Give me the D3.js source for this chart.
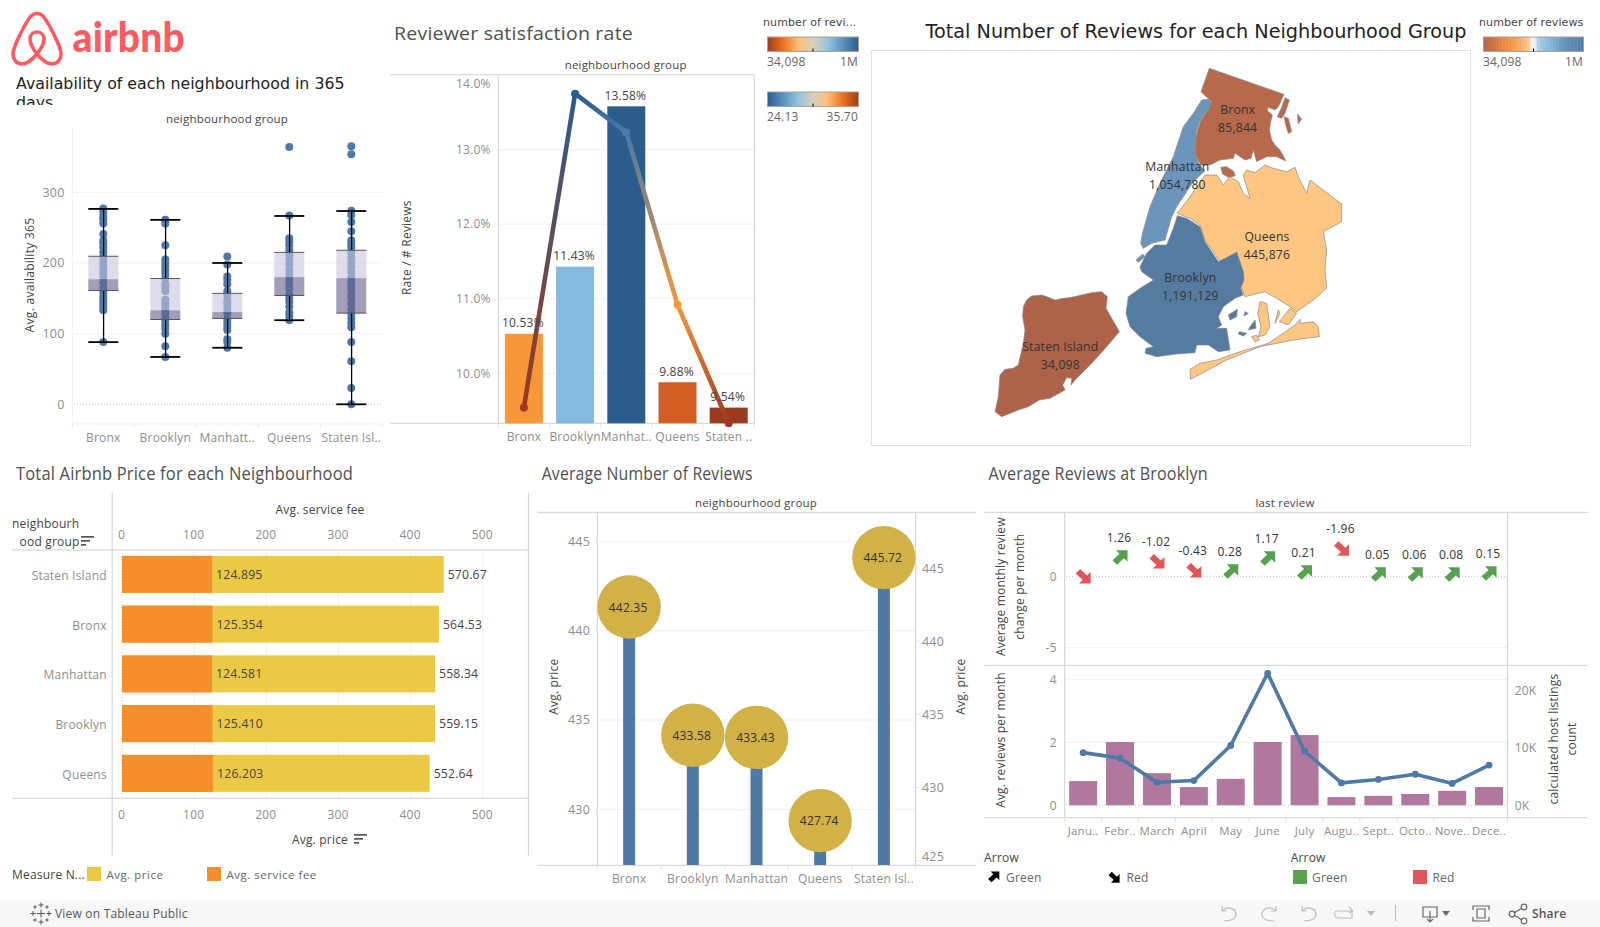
<!DOCTYPE html>
<html><head><meta charset="utf-8">
<script src="https://cdn.jsdelivr.net/npm/d3@7/dist/d3.min.js"></script>
<style>html,body{margin:0;padding:0;background:#fff;overflow:hidden}svg{display:block}text{font-family:'Open Sans',sans-serif;letter-spacing:.2px}</style>
</head><body><svg id="c" width="1600" height="927"></svg>
<script>
// ---------- data ----------
const groups = ["Bronx","Brooklyn","Manhattan","Queens","Staten Island"];
const boxTickLabels = ["Bronx","Brooklyn","Manhatt..","Queens","Staten Isl.."];
const boxWhiskerHigh = [276.5,261,200,266.5,273.5];
const boxWhiskerLow = [88,67,80,119,0];
const boxQ3 = [209.5,178,157,215,218];
const boxMedian = [177,133,130.5,180,178.5];
const boxQ1 = [161,120,121.5,154,129];
const boxPoints = [
 [277,272,266,262,256,241,232,228,222,215,208,203,198,192,186,180,172,165,158,152,147,142,137,133,88],
 [261,256,225,205,200,195,190,185,178,170,165,160,148,143,138,133,128,122,118,112,107,100,82,67],
 [209,198,181,176,170,160,155,148,143,138,132,128,120,115,110,105,92,88,80],
 [364,267,235,230,225,218,212,205,198,190,183,176,170,163,155,150,145,138,130,125,119],
 [365,354,274,268,258,245,232,227,222,215,207,200,195,188,180,173,168,162,155,150,143,135,128,122,115,109,88,61,23,0]];
const boxTicks = [0,100,200,300];

const rateTickLabels = ["Bronx","Brooklyn","Manhat..","Queens","Staten .."];
const rateBars = [10.53,11.43,13.58,9.88,9.54];
const rateLine = [9.54,13.75,13.23,10.92,9.33];
const rateBarColors = ["#f7973a","#85b9dd","#2c5c8c","#d35d23","#9c3a1f"];
const rateLineColors = ["#9c3a1f","#2c5c8c","#4a7aa8","#f7973a","#9c3a1f"];
const rateTicks = [10,11,12,13,14];

const mapNames = ["Bronx","Manhattan","Queens","Brooklyn","Staten Island"];
const mapReviews = ["85,844","1,054,780","445,876","1,191,129","34,098"];

const priceGroups = ["Staten Island","Bronx","Manhattan","Brooklyn","Queens"];
const serviceFee = [124.895,125.354,124.581,125.410,126.203];
const priceTotal = [570.67,564.53,558.34,559.15,552.64];
const priceTicks = [0,100,200,300,400,500];

const lolliTickLabels = ["Bronx","Brooklyn","Manhattan","Queens","Staten Isl.."];
const avgPrice = [442.35,433.58,433.43,427.74,445.72];
const lolliLeftTicks = [430,435,440,445];
const lolliRightTicks = [425,430,435,440,445];

const months = ["January","February","March","April","May","June","July","August","September","October","November","December"];
const monthLabels = ["Janu..","Febr..","March","April","May","June","July","Augu..","Sept..","Octo..","Nove..","Dece.."];
const changeLabels = [null,1.26,-1.02,-0.43,0.28,1.17,0.21,-1.96,0.05,0.06,0.08,0.15];
const changeMagnitude = [0.05,1.34,1.10,0.47,0.35,1.27,0.28,2.00,0.14,0.14,0.14,0.21];
const changeDirection = ["down","up","down","down","up","up","up","down","up","up","up","up"];
const reviewsPerMonth = [0.77,2.01,1.02,0.58,0.84,2.01,2.23,0.26,0.30,0.36,0.46,0.58];
const hostListings = [9.16,8.2,4.0,4.3,10.4,22.96,9.4,3.9,4.5,5.4,3.8,7.0];

// map outlines, in map units
const outlineBronx = [[748,55],[972,133],[960,160],[955,170],[945,180],[925,172],[922,182],[937,195],[932,215],[928,240],[935,270],[945,285],[960,300],[978,333],[950,320],[920,320],[890,335],[880,300],[873,325],[855,330],[825,310],[820,325],[780,330],[750,345],[722,345],[705,310],[708,260],[722,210],[745,180],[755,155],[745,146],[723,125]];
const outlineBronx2 = [[975,143],[988,150],[975,190],[965,205],[952,200],[968,165]];
const outlineBronx3 = [[972,200],[985,205],[995,245],[985,250],[978,228]];
const outlineBronx4 = [[1012,192],[1025,207],[1015,222]];
const outlineRikers = [[782,352],[800,350],[822,365],[825,378],[805,382],[788,372]];
const outlineManhattan = [[725,150],[745,148],[755,158],[745,178],[720,210],[708,250],[705,310],[718,345],[735,362],[700,395],[680,425],[650,470],[635,500],[615,570],[575,580],[550,595],[542,580],[548,548],[570,470],[600,400],[640,320],[670,230],[700,190]];
const outlineGovernors = [[528,630],[548,612],[555,620],[535,637]];
const outlineQueens = [[652,490],[690,440],[735,375],[770,375],[790,405],[810,380],[835,395],[850,430],[870,445],[860,410],[850,375],[860,360],[885,368],[915,345],[940,355],[980,365],[1005,352],[1015,380],[1040,430],[1050,390],[1145,462],[1145,515],[1090,545],[1100,600],[1095,660],[1100,715],[1060,750],[1010,785],[990,770],[950,745],[915,725],[855,740],[842,710],[850,670],[830,607],[780,635],[760,605],[735,570],[720,525],[690,505]];
const outlineBroadChannel = [[900,755],[920,760],[930,830],[915,855],[895,860],[903,830],[893,790]];
const outlineQueensIsle1 = [[990,775],[1010,790],[985,825],[958,815]];
const outlineQueensIsle2 = [[955,780],[960,790],[945,820]];
const outlineQueensIsle3 = [[875,860],[890,855],[898,870],[885,875]];
const outlineRockaway = [[690,958],[720,940],[770,930],[840,905],[925,880],[1005,825],[1020,808],[1022,820],[1060,815],[1075,830],[1078,860],[1000,870],[900,890],[800,930],[692,988]];
const outlineBrooklyn = [[652,497],[680,505],[720,530],[735,575],[775,635],[830,607],[850,665],[852,690],[842,715],[850,735],[825,745],[790,770],[775,800],[785,825],[770,835],[800,835],[810,900],[775,905],[745,885],[710,885],[705,908],[650,912],[590,920],[555,910],[558,895],[580,890],[540,860],[510,830],[498,790],[505,740],[540,715],[580,690],[545,665],[540,650],[560,610],[585,585],[620,585],[640,535]];
const outlineBkIsle1 = [[805,795],[832,778],[830,800],[810,810]];
const outlineBkIsle2 = [[855,785],[865,790],[852,798]];
const outlineBkIsle3 = [[870,830],[885,810],[888,835],[865,840]];
const outlineBkIsle4 = [[838,845],[860,850],[850,858],[835,852]];
const outlineStaten = [[190,770],[200,750],[215,738],[245,735],[265,742],[285,750],[310,745],[335,742],[365,735],[395,728],[425,725],[442,740],[438,775],[455,805],[470,830],[478,845],[440,890],[395,940],[350,985],[333,1005],[335,985],[320,983],[308,1005],[315,1020],[270,1045],[238,1050],[205,1070],[175,1080],[125,1100],[105,1085],[115,1040],[120,975],[135,958],[160,955],[175,945],[183,910],[190,880],[195,840],[188,800]];

// ---------- helpers ----------
const GREY="#8e8e8e", DARK="#444", GRID="#f0f0f0", RULE="#cfcfcf", BLUE="#4e79a7";
const svg=d3.select("#c");
function txt(x,y,s,o={}){return svg.append("text").attr("x",x).attr("y",y).attr("dy","0.35em")
  .attr("text-anchor",o.a||"start").attr("fill",o.c||DARK).style("font-size",(o.s||12)+"px")
  .style("font-family",o.f||null).style("font-weight",o.w||null).style("letter-spacing",o.ls||null).text(s);}
function title(x,y,s,len){return txt(x,y,s,{s:18,c:"#4f4f4f",w:400}).attr("textLength",len).attr("lengthAdjust","spacingAndGlyphs");}
function vtxt(x,y,s,o={}){return txt(0,0,s,Object.assign({a:"middle"},o)).attr("transform",`translate(${x},${y}) rotate(-90)`);}
function rule(x1,y1,x2,y2,c=RULE,w=1,dash=null){const l=svg.append("line").attr("x1",x1).attr("y1",y1).attr("x2",x2).attr("y2",y2).attr("stroke",c).attr("stroke-width",w);if(dash)l.attr("stroke-dasharray",dash);return l;}
function styleAxis(g,size=12,color=GREY){g.select(".domain").remove();g.selectAll(".tick line").remove();
  g.selectAll("text").attr("fill",color).style("font-size",size+"px");return g;}
function bandTicks(x,y,len=4,c="#e0e0e0"){const d=x.domain();d.forEach(k=>rule(x(k),y,x(k),y+len,c));rule(x(d[d.length-1])+x.bandwidth(),y,x(d[d.length-1])+x.bandwidth(),y+len,c);}
function bottomLabels(x,labels,y,size=12){const map=new Map(x.domain().map((k,i)=>[k,labels[i]]));
  return styleAxis(svg.append("g").attr("transform",`translate(0,${y})`).call(d3.axisBottom(x).tickSize(0).tickPadding(0).tickFormat(k=>map.get(k))),size).call(g=>g.selectAll("text").attr("dy","0.35em").attr("y",0));}
function sortIcon(x,y,c="#555"){[13,9,5].forEach((w,i)=>svg.append("rect").attr("x",x).attr("y",y+i*4).attr("width",w).attr("height",1.7).attr("fill",c));}

// ---------- logo ----------
svg.append("path").attr("fill","none").attr("stroke","#ff5a5f").attr("stroke-width",3.6).attr("stroke-linejoin","round")
 .attr("d","M37 54 C42 60 47 64 52 64 C58 64 61 59 61 54 C61 50 59 46 57 41 C52 30 47 21 43 16 C41 14 39 13.5 37 13.5 C35 13.5 33 14 31 16 C27 21 22 30 17 41 C15 46 13 50 13 54 C13 59 16 64 22 64 C27 64 32 60 37 54 C41 49 44 44 44 39 C44 35 41 32 37 32 C33 32 30 35 30 39 C30 44 33 49 37 54 Z");
txt(72.5,38,"airbnb",{s:41,c:"#ff5a5f",w:900,f:"Lato,sans-serif"}).attr("textLength",112.5).attr("lengthAdjust","spacingAndGlyphs");

// ---------- box plot ----------
const clip=svg.append("defs").append("clipPath").attr("id","tclip").append("rect").attr("x",0).attr("y",70).attr("width",380).attr("height",35);
const t1=svg.append("g").attr("clip-path","url(#tclip)");
t1.append("text").attr("x",16).attr("y",88.5).attr("fill","#222").style("font-family","'DejaVu Sans'").style("letter-spacing","0").style("font-size","15.8px").text("Availability of each neighbourhood in 365");
t1.append("text").attr("x",16).attr("y",107.5).attr("fill","#222").style("font-family","'DejaVu Sans'").style("letter-spacing","0").style("font-size","15.8px").text("days");
txt(227,119,"neighbourhood group",{a:"middle",s:11.5,w:500});
const bx=d3.scaleBand().domain(groups).range([72.3,382.3]);
const by=d3.scaleLinear().domain([0,300]).range([404.3,192.3]);
boxTicks.filter(t=>t>0).forEach(t=>rule(72,by(t),382,by(t),GRID));
rule(72.3,128,72.3,428,GRID);rule(72,424,382,424,GRID);
rule(74,by(0),382,by(0),"#c4c4c4",1,"1,2");
bandTicks(bx,424,4,"#e8e8e8");
styleAxis(svg.append("g").attr("transform","translate(64.5,0)").call(d3.axisLeft(by).tickValues(boxTicks).tickSize(0).tickPadding(0)),12.5);
bottomLabels(bx,boxTickLabels,437.7);
vtxt(29.3,275,"Avg. availability 365",{s:12.2});
groups.forEach((g,i)=>{const cx=bx(g)+bx.bandwidth()/2,w=30;
  svg.append("g").selectAll("circle").data(boxPoints[i]).join("circle").attr("cx",cx).attr("cy",d=>by(d)).attr("r",4).attr("fill",BLUE);
  rule(cx+.3,by(boxWhiskerHigh[i]),cx+.3,by(boxQ3[i]),"#000",1.3);
  rule(cx+.3,by(boxQ1[i]),cx+.3,by(boxWhiskerLow[i]),"#000",1.3);
  rule(cx-15,by(boxWhiskerHigh[i]),cx+15,by(boxWhiskerHigh[i]),"#000",1.8);
  rule(cx-15,by(boxWhiskerLow[i]),cx+15,by(boxWhiskerLow[i]),"#000",1.8);
  svg.append("rect").attr("x",cx-w/2).attr("width",w).attr("y",by(boxQ3[i])).attr("height",by(boxMedian[i])-by(boxQ3[i])).attr("fill","rgb(200,195,222)").attr("fill-opacity",.6);
  svg.append("rect").attr("x",cx-w/2).attr("width",w).attr("y",by(boxMedian[i])).attr("height",by(boxQ1[i])-by(boxMedian[i])).attr("fill","rgb(105,97,142)").attr("fill-opacity",.62);
  rule(cx-15,by(boxQ3[i]),cx+15,by(boxQ3[i]),"#555",1);rule(cx-15,by(boxQ1[i]),cx+15,by(boxQ1[i]),"#555",1);
});

// ---------- satisfaction ----------
title(394,33.5,"Reviewer satisfaction rate",239);
txt(625.7,65,"neighbourhood group",{a:"middle",s:11.5,w:500});
const rx=d3.scaleBand().domain(groups).range([498.3,754.3]);
const ry=d3.scaleLinear().domain([10,14]).range([373.3,75]);
rateTicks.slice(0,4).forEach(t=>rule(498,ry(t),754,ry(t),GRID));
rule(390,74.7,754.3,74.7);rule(390,423.3,754.3,423.3);rule(498.3,74.7,498.3,423.3);rule(754.3,74.7,754.3,423.3);
bandTicks(rx,423.3,4,"#e0e0e0");
const ryAxis=styleAxis(svg.append("g").attr("transform","translate(490.7,0)").call(d3.axisLeft(ry).tickValues(rateTicks).tickSize(0).tickPadding(0).tickFormat(d=>d.toFixed(1)+"%")),12);
ryAxis.selectAll(".tick").filter(d=>d===14).attr("transform",`translate(0,${ry(14)+9})`);
bottomLabels(rx,rateTickLabels,437);
vtxt(406.7,247.7,"Rate / # Reviews",{s:12});
const barW=38,rbase=423.3;
svg.append("g").selectAll("rect").data(rateBars).join("rect").attr("x",(d,i)=>rx(groups[i])+rx.bandwidth()/2-barW/2).attr("width",barW)
 .attr("y",d=>ry(d)).attr("height",d=>rbase-ry(d)).attr("fill",(d,i)=>rateBarColors[i]);
const defs=svg.select("defs");
rateLine.slice(1).forEach((v,k)=>{
  const x1=rx(groups[k])+rx.bandwidth()/2,x2=rx(groups[k+1])+rx.bandwidth()/2,y1=ry(rateLine[k]),y2=ry(v);
  const gr=defs.append("linearGradient").attr("id","seg"+k).attr("gradientUnits","userSpaceOnUse").attr("x1",x1).attr("y1",y1).attr("x2",x2).attr("y2",y2);
  gr.append("stop").attr("offset",0).attr("stop-color",rateLineColors[k]);gr.append("stop").attr("offset",1).attr("stop-color",rateLineColors[k+1]);
  svg.append("line").attr("x1",x1).attr("y1",y1).attr("x2",x2).attr("y2",y2).attr("stroke","url(#seg"+k+")").attr("stroke-width",4.6).attr("stroke-linecap","round");
});
svg.append("g").selectAll("circle").data(rateLine).join("circle").attr("cx",(d,i)=>rx(groups[i])+rx.bandwidth()/2).attr("cy",d=>ry(d)).attr("r",4).attr("fill",(d,i)=>rateLineColors[i]);
rateBars.forEach((v,i)=>txt(rx(groups[i])+rx.bandwidth()/2-1,ry(v)-10.5,v.toFixed(2)+"%",{a:"middle",s:12}));

// colour legends
const warmCool=["#a03d1e","#e8701f","#fdbb70","#d8d0c0","#92c2e0","#5a8fbd","#2c5c8c"];
function gradLegend(id,stops,x,y,w,h){const g=defs.append("linearGradient").attr("id",id);
  stops.forEach((c,i)=>g.append("stop").attr("offset",i/(stops.length-1)).attr("stop-color",c));
  svg.append("rect").attr("x",x).attr("y",y).attr("width",w).attr("height",h).attr("fill","url(#"+id+")").attr("stroke","#a8a294").attr("stroke-width",1);
  rule(x+w/2,y+h-3,x+w/2,y+h,"#000",1);}
txt(763,22,"number of revi...",{s:11,f:"'DejaVu Sans'",c:"#444",ls:"0.1px"});
gradLegend("l1",warmCool,767.5,37,91,14.5);
txt(767,62,"34,098",{s:12,c:"#666"});txt(858,62,"1M",{s:12,a:"end",c:"#666"});
gradLegend("l2",warmCool.slice().reverse(),767.5,92,91,14.5);
txt(767,116.7,"24.13",{s:12,c:"#666"});txt(858,116.7,"35.70",{s:12,a:"end",c:"#666"});
txt(1479,22,"number of reviews",{s:11,f:"'DejaVu Sans'",c:"#444",ls:"0.1px"});
const stepColor=d3.scaleLinear().domain([0,.25,.45,.5,.55,.75,1]).range(["#b5644a","#f28e3c","#fdc48a","#ffffff","#a9cfe6","#6f9fc6","#4e79a7"]);
svg.append("g").selectAll("rect").data(d3.range(32)).join("rect").attr("x",d=>1483.5+d*100/32).attr("y",37).attr("width",100/32+.3).attr("height",14.5).attr("fill",d=>stepColor((d+.5)/32));
svg.append("rect").attr("x",1483.5).attr("y",37).attr("width",100).attr("height",14.5).attr("fill","none").attr("stroke","#a8a294");
rule(1533.5,48.5,1533.5,51.5,"#000",1);
txt(1483,62,"34,098",{s:12,c:"#666"});txt(1583,62,"1M",{s:12,a:"end",c:"#666"});

// ---------- map ----------
txt(925.5,31.3,"Total Number of Reviews for each Neighbourhood Group",{s:19,f:"'DejaVu Sans'",c:"#222",ls:"0"}).attr("textLength",541).attr("lengthAdjust","spacingAndGlyphs");
svg.append("rect").attr("x",871.5).attr("y",50.5).attr("width",599).attr("height",395).attr("fill","none").attr("stroke","#e0e0e0");
const mx=d3.scaleLinear().domain([0,1260]).range([960,1380]),my=d3.scaleLinear().domain([0,1140]).range([50,430]);
const mapLine=d3.line().x(d=>mx(d[0])).y(d=>my(d[1])).curve(d3.curveLinearClosed);
const mapShapes=[
 [outlineBronx,"#b8694b"],[outlineBronx2,"#b8694b"],[outlineBronx3,"#b8694b"],[outlineBronx4,"#b8694b"],[outlineRikers,"#b8694b"],
 [outlineManhattan,"#6b95bb"],[outlineGovernors,"#6b95bb"],
 [outlineQueens,"#fec680"],[outlineBroadChannel,"#fec680"],[outlineQueensIsle1,"#fec680"],[outlineQueensIsle2,"#fec680"],[outlineQueensIsle3,"#fec680"],[outlineRockaway,"#fec680"],
 [outlineBrooklyn,"#557ba0"],[outlineBkIsle1,"#557ba0"],[outlineBkIsle2,"#557ba0"],[outlineBkIsle3,"#557ba0"],[outlineBkIsle4,"#557ba0"],
 [outlineStaten,"#ad6249"]];
svg.append("g").selectAll("path").data(mapShapes).join("path").attr("d",d=>mapLine(d[0])).attr("fill",d=>d[1]).attr("stroke","#8a8a8a").attr("stroke-width",.7);
const mapLabelX=[833,652,921,691,301],mapLabelY=[180,350,560,684,890];
mapNames.forEach((n,i)=>{txt(mx(mapLabelX[i]),my(mapLabelY[i]),n,{a:"middle",s:12.2,c:"#333"});txt(mx(mapLabelX[i]),my(mapLabelY[i]+53),mapReviews[i],{a:"middle",s:12.2,c:"#333"});});

// ---------- price ----------
title(16,473.3,"Total Airbnb Price for each Neighbourhood",337);
rule(112.2,492.7,112.2,855.7);rule(528.4,492.7,528.4,855.7);rule(12,550,528.4,550);rule(12,798.3,528.4,798.3);
const px=d3.scaleLinear().domain([0,500]).range([122,482.8]);
const py=d3.scaleBand().domain(priceGroups).range([549.5,798.25]);
priceTicks.forEach(t=>{if(t>0)rule(px(t),550,px(t),798,GRID);});
rule(122,550,122,798,"#c4c4c4",1,"1,2");
styleAxis(svg.append("g").attr("transform","translate(-1,534.7)").call(d3.axisTop(px).tickValues(priceTicks).tickSize(0).tickPadding(0)),12).call(g=>g.selectAll("text").attr("dy","0.35em").attr("y",0));
styleAxis(svg.append("g").attr("transform","translate(-1,814.7)").call(d3.axisBottom(px).tickValues(priceTicks).tickSize(0).tickPadding(0)),12).call(g=>g.selectAll("text").attr("dy","0.35em").attr("y",0));
txt(320,510,"Avg. service fee",{a:"middle",s:12,w:500});
txt(320,840,"Avg. price",{a:"middle",s:12,w:500});sortIcon(354,834);
txt(12,524,"neighbourh",{s:12,w:500});txt(19.6,542,"ood group",{s:12,w:500});sortIcon(81,536);
styleAxis(svg.append("g").attr("transform","translate(106.8,1.7)").call(d3.axisLeft(py).tickSize(0).tickPadding(0)),12);
priceGroups.forEach((g,i)=>{const yy=py(g)+py.bandwidth()/2-18.5,end=priceTotal[i]-serviceFee[i];
  svg.append("rect").attr("x",px(0)).attr("y",yy).attr("width",px(end)-px(0)).attr("height",37).attr("fill","#ebc944");
  svg.append("rect").attr("x",px(0)).attr("y",yy).attr("width",px(serviceFee[i])-px(0)).attr("height",37).attr("fill","#f48f2b");
  txt(px(serviceFee[i])+4,yy+18.7,serviceFee[i].toFixed(3),{s:12.2});
  txt(px(end)+4,yy+18.7,priceTotal[i].toFixed(2),{s:12.2});
});
txt(12,875,"Measure N...",{s:12,w:500});
svg.append("rect").attr("x",87).attr("y",867).attr("width",14).attr("height",14).attr("fill","#ebc944");txt(106.5,875,"Avg. price",{s:11.5,c:"#666",ls:".5px"});
svg.append("rect").attr("x",207).attr("y",867).attr("width",14).attr("height",14).attr("fill","#f48f2b");txt(226.5,875,"Avg. service fee",{s:11.5,c:"#666",ls:".5px"});

// ---------- lollipop ----------
title(541.7,473.3,"Average Number of Reviews",211);
txt(756,502.7,"neighbourhood group",{a:"middle",s:11.5,w:500});
rule(537.3,512.3,976,512.3);rule(537.3,865.3,976,865.3);rule(597.3,512.3,597.3,865.3);rule(915.7,512.3,915.7,865.3);
const lx=d3.scaleBand().domain(groups).range([597.3,915.7]);
const lyL=d3.scaleLinear().domain([430,445]).range([809.3,541.3]);
const lyR=d3.scaleLinear().domain([425,445]).range([860.7,568.2]);
lolliLeftTicks.forEach(t=>rule(597,lyL(t),915,lyL(t),GRID));
lolliRightTicks.forEach(t=>rule(915.7,lyR(t),919,lyR(t),"#ddd"));
bandTicks(lx,865.3,4,"#e0e0e0");
styleAxis(svg.append("g").attr("transform","translate(590,0)").call(d3.axisLeft(lyL).tickValues(lolliLeftTicks).tickSize(0).tickPadding(0)),12.5);
const rAxis=styleAxis(svg.append("g").attr("transform","translate(922,0)").call(d3.axisRight(lyR).tickValues(lolliRightTicks).tickSize(0).tickPadding(0)),12.5);
rAxis.selectAll(".tick").filter(d=>d===425).attr("transform",`translate(0,${lyR(425)-4})`);
bottomLabels(lx,lolliTickLabels,879);
vtxt(554,686.7,"Avg. price",{s:12});vtxt(960.7,686.7,"Avg. price",{s:12});
avgPrice.forEach((v,i)=>{const cx=lx(groups[i])+lx.bandwidth()/2;
  svg.append("rect").attr("x",cx-6).attr("width",12).attr("y",lyR(v)).attr("height",865-lyR(v)).attr("fill",BLUE);});
avgPrice.forEach((v,i)=>{const cx=lx(groups[i])+lx.bandwidth()/2;
  svg.append("circle").attr("cx",cx).attr("cy",lyR(v)).attr("r",31.7).attr("fill","#d2b147");
  txt(cx-1,lyR(v)+.5,v.toFixed(2),{a:"middle",s:12,c:"#333"});});

// ---------- Brooklyn ----------
title(988.5,473.3,"Average Reviews at Brooklyn",219.3);
txt(1285,502.7,"last review",{a:"middle",s:11.5,w:500});
rule(984.2,512.3,1587.6,512.3);rule(984.2,665.3,1587.6,665.3);rule(984.2,817.7,1587.6,817.7);
rule(1064.7,512.3,1064.7,817.7);rule(1507.5,512.3,1507.5,817.7);
const bkx=d3.scaleBand().domain(months).range([1064.7,1507.5]);
const cy=d3.scaleLinear().domain([-5,0]).range([647.7,576.7]);
const ly=d3.scaleLinear().domain([0,4]).range([805.3,679.3]);
const hy=d3.scaleLinear().domain([0,20]).range([805.3,690.3]);
rule(1065,cy(-5),1507,cy(-5),GRID);rule(1065,ly(4),1507,ly(4),GRID);rule(1065,ly(2),1507,ly(2),GRID);
bandTicks(bkx,817.7,4,"#e0e0e0");
styleAxis(svg.append("g").attr("transform","translate(1056.7,0)").call(d3.axisLeft(cy).tickValues([-5,0]).tickSize(0).tickPadding(0).tickFormat(d=>String(d))),12);
styleAxis(svg.append("g").attr("transform","translate(1056.7,0)").call(d3.axisLeft(ly).tickValues([0,2,4]).tickSize(0).tickPadding(0).tickFormat(d=>String(d))),12);
styleAxis(svg.append("g").attr("transform","translate(1514.7,0)").call(d3.axisRight(hy).tickValues([0,10,20]).tickSize(0).tickPadding(0).tickFormat(d=>d+"K")),12);
bottomLabels(bkx,monthLabels,831,11.5);
vtxt(1001,586.7,"Average monthly review",{s:12});vtxt(1019.6,586.7,"change per month",{s:12});
vtxt(1001,740,"Avg. reviews per month",{s:12});
vtxt(1554,739,"calculated host listings",{s:12});vtxt(1571.7,739,"count",{s:12});
months.forEach((m,i)=>svg.append("rect").attr("x",bkx(m)+bkx.bandwidth()/2-14).attr("width",28).attr("y",ly(reviewsPerMonth[i])).attr("height",ly(0)-ly(reviewsPerMonth[i])).attr("fill","#b0789f"));
rule(1066,cy(0),1507,cy(0),"#c4c4c4",1,"1,2");rule(1066,ly(0),1507,ly(0),"#c4c4c4",1,"1,2");
const bkLine=d3.line().x((d,i)=>bkx(months[i])+bkx.bandwidth()/2).y(d=>hy(d));
svg.append("path").attr("d",bkLine(hostListings)).attr("fill","none").attr("stroke",BLUE).attr("stroke-width",3.6).attr("stroke-linejoin","round");
svg.append("g").selectAll("circle").data(hostListings).join("circle").attr("cx",(d,i)=>bkx(months[i])+bkx.bandwidth()/2).attr("cy",d=>hy(d)).attr("r",3.4).attr("fill",BLUE);
const arrowUp="M7.5,-7.5 L7.5,4 L3.8,.5 L-3,7 L-7.5,2.5 L-.5,-3.8 L-4,-7.5 Z";
const arrowDown="M7.5,7.5 L7.5,-4 L3.8,-.5 L-3,-7 L-7.5,-2.5 L-.5,3.8 L-4,7.5 Z";
months.forEach((m,i)=>{const ax=bkx(m)+bkx.bandwidth()/2,ay=cy(changeMagnitude[i]);
  svg.append("path").attr("d",changeDirection[i]==="up"?arrowUp:arrowDown).attr("transform",`translate(${ax},${ay})`).attr("fill",changeDirection[i]==="up"?"#57a04f":"#e15759");
  if(changeLabels[i]!==null)txt(ax-1,ay-19.5,changeLabels[i].toFixed(2),{a:"middle",s:12,c:"#333"});
});
txt(984,858,"Arrow",{s:12,w:500});txt(1290.7,858,"Arrow",{s:12,w:500});
svg.append("path").attr("d",arrowUp).attr("transform","translate(993.7,877) scale(.75)").attr("fill","#000");txt(1006,878,"Green",{s:12,c:"#666"});
svg.append("path").attr("d",arrowDown).attr("transform","translate(1114,877) scale(.75)").attr("fill","#000");txt(1126.5,878,"Red",{s:12,c:"#666"});
svg.append("rect").attr("x",1293).attr("y",870).attr("width",14).attr("height",14).attr("fill","#57a04f");txt(1312,878,"Green",{s:12,c:"#666"});
svg.append("rect").attr("x",1413).attr("y",870).attr("width",14).attr("height",14).attr("fill","#e15759");txt(1432.5,878,"Red",{s:12,c:"#666"});

// ---------- footer ----------
svg.append("rect").attr("x",0).attr("y",900).attr("width",1600).attr("height",27).attr("fill","#f7f7f7");
txt(55,913.5,"View on Tableau Public",{s:12,c:"#555",w:500});
[[41,913.5,4],[41,905,2.5],[41,922,2.5],[33,913.5,2.5],[49,913.5,2.5],[35,907,1.7],[47,907,1.7],[35,920,1.7],[47,920,1.7]].forEach(p=>{
  rule(p[0]-p[2],p[1],p[0]+p[2],p[1],"#555",1);rule(p[0],p[1]-p[2],p[0],p[1]+p[2],"#555",1);});
const ic="#bdbdbd";
function icon(d,c=ic){svg.append("path").attr("d",d).attr("fill","none").attr("stroke",c).attr("stroke-width",1.2);}
icon("M1222 906 L1222 911 L1227 911 M1222 911 C1228 905 1236 909 1236 914 C1236 919 1230 921 1224 921");
icon("M1276 906 L1276 911 L1271 911 M1276 911 C1270 905 1262 909 1262 914 C1262 919 1268 921 1274 921");
icon("M1302 906 L1302 911 L1307 911 M1302 911 C1308 905 1316 909 1316 914 C1316 919 1310 921 1304 921");
icon("M1336 911 L1352 911 L1352 918 L1338 918 C1334 918 1334 911 1336 911 M1349 907 L1353 911 L1349 913");
svg.append("path").attr("d","M1367 911 L1375 911 L1371 916 Z").attr("fill",ic);
rule(1395.5,905,1395.5,921,"#bbb",1);
icon("M1423 907 L1437 907 L1437 917 L1423 917 Z M1430 911 L1430 922 M1427 919 L1430 922 L1433 919","#666");
svg.append("path").attr("d","M1442 911 L1450 911 L1446 916 Z").attr("fill","#666");
icon("M1473 910 L1473 906 L1489 906 L1489 910 M1473 917 L1473 921 L1489 921 L1489 917 M1477 909 L1485 909 L1485 918 L1477 918 Z","#666");
icon("M1514 913 L1522 908 M1514 915 L1522 920","#666");
[[1512,914],[1524,907],[1524,921]].forEach(p=>svg.append("circle").attr("cx",p[0]).attr("cy",p[1]).attr("r",2.8).attr("fill","none").attr("stroke","#666").attr("stroke-width",1.2));
txt(1532,913.5,"Share",{s:12,c:"#555",w:600});
</script></body></html>
